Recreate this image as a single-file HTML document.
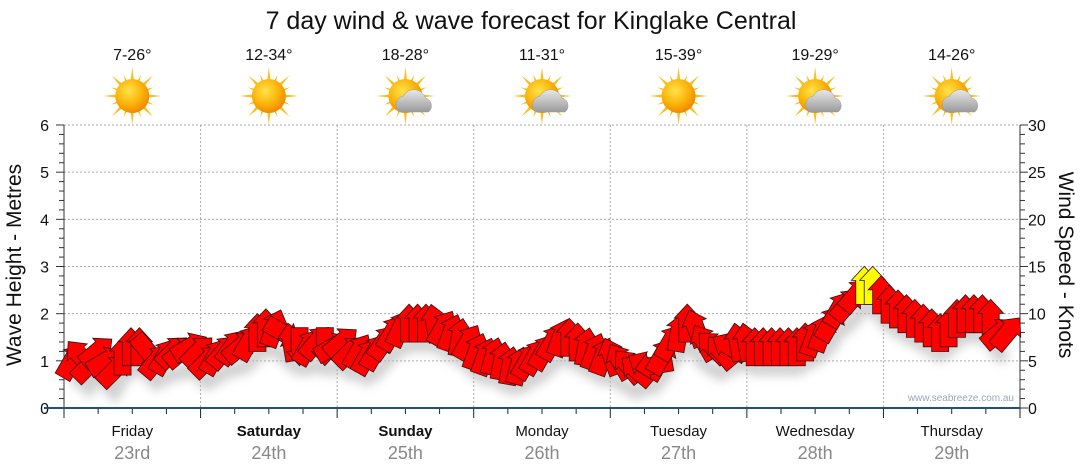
<!DOCTYPE html>
<html><head><meta charset="utf-8"><style>
body{margin:0;background:#fff;font-family:"Liberation Sans","DejaVu Sans",sans-serif}
svg{display:block}
</style></head><body>
<svg id="c" width="1080" height="475" viewBox="0 0 1080 475">
<defs>
<radialGradient id="sg" cx="40%" cy="35%" r="65%"><stop offset="0" stop-color="#ffe34a"/><stop offset="0.6" stop-color="#fbb40a"/><stop offset="1" stop-color="#f08a00"/></radialGradient>
<linearGradient id="cg" x1="0" y1="0" x2="0" y2="1"><stop offset="0" stop-color="#e8e8e8"/><stop offset="1" stop-color="#9a9a9a"/></linearGradient>
<filter id="sh" x="-20%" y="-20%" width="140%" height="160%"><feGaussianBlur stdDeviation="5"/></filter>
</defs>
<text x="531" y="29" text-anchor="middle" font-size="25" fill="#111">7 day wind &amp; wave forecast for Kinglake Central</text>
<g id="grid"></g><g id="axes"></g><g id="icons"></g><g id="arrows"></g>
<text x="1014" y="401" text-anchor="end" font-size="10" fill="#9aa6c0">www.seabreeze.com.au</text>
<text transform="translate(21,265) rotate(-90)" text-anchor="middle" font-size="21" fill="#111">Wave Height - Metres</text>
<text transform="translate(1059,265) rotate(90)" text-anchor="middle" font-size="21" fill="#111">Wind Speed - Knots</text>
</svg>
<script>
const days=["Friday","Saturday","Sunday","Monday","Tuesday","Wednesday","Thursday"];
const dates=["23rd","24th","25th","26th","27th","28th","29th"];
const boldDays=[false,true,true,false,false,false,false];
const temps=["7-26°","12-34°","18-28°","11-31°","15-39°","19-29°","14-26°"];
const cloudy=[false,false,true,true,false,true,true];
const waveTicks=[0,1,2,3,4,5,6];
const windTicks=[0,5,10,15,20,25,30];
const windSpeed=[5,5.5,4.5,6,5,4,5.5,6.5,6.5,6,5,5.5,6,6,6.5,6,
5,5.5,6,6.5,6.5,7,8,8.5,8.5,8,7,6.5,6.5,7,6.5,6.5,
7,6,6,5.5,6,7,8,8.5,9,9,9,9,8.5,8,7.5,7,
6,5.5,5.5,5,4.5,4.5,5,5.5,6,7,7.5,7.5,7,6.5,6,5.5,
5.5,5,4.5,4,4.5,4.5,5.5,7,8,9,8.5,7,6.5,6,6.5,7,
7,6.5,6.5,6.5,6.5,6.5,6.5,7,7.5,8,9,10.5,11,12,13,13,
12,11,10.5,10,9.5,9,8.5,8,8.5,9.5,10,10,10,9.5,8,8];
const windDir=[30,-40,45,50,60,45,0,0,0,140,40,30,45,50,60,45,
45,30,40,35,50,30,0,0,20,120,-10,180,30,40,180,60,
50,45,30,30,30,35,30,25,0,0,0,-10,30,20,10,30,
20,20,15,10,10,15,30,30,30,30,20,0,0,10,20,20,
-20,-30,-40,-50,-60,-100,30,30,10,0,-20,-30,-45,-40,-60,-10,
-10,0,0,0,0,0,0,0,20,20,30,30,40,40,0,0,
0,0,0,0,0,0,0,0,0,0,0,0,0,0,50,40];
const NS="http://www.w3.org/2000/svg";
const X0=64,X1=1020,Y0=408,Y1=125,DW=(X1-X0)/7;
const yW=m=>Y0-(m/6)*(Y0-Y1);
const yK=k=>Y0-(k/30)*(Y0-Y1);
const xT=i=>X0+8+i*(X1-X0-12)/windSpeed.length;
function mk(t,a,p){const e=document.createElementNS(NS,t);for(const k in a)e.setAttribute(k,a[k]);(p||document.getElementById('c')).appendChild(e);return e;}
const grid=document.getElementById('grid'),axes=document.getElementById('axes'),icons=document.getElementById('icons'),arr=document.getElementById('arrows');
waveTicks.forEach(v=>{if(v>0){const l=mk('line',{x1:X0,x2:X1,y1:yW(v),y2:yW(v),stroke:'#aaa','stroke-dasharray':'2,2'},grid);}
const t=mk('text',{x:49,y:yW(v)+6,'text-anchor':'end','font-size':16,fill:'#111'},axes);t.textContent=v;});
windTicks.forEach(v=>{const t=mk('text',{x:1028,y:yK(v)+6,'font-size':16,fill:'#111'},axes);t.textContent=v;});
for(let i=1;i<7;i++){const l=mk('line',{x1:X0+i*DW,x2:X0+i*DW,y1:Y1,y2:Y0,stroke:'#aaa','stroke-dasharray':'2,2'},grid);}
for(let m=0;m<=30;m++){const y=Y1+m*(Y0-Y1)/30,w=m%5==0?8:5;mk('line',{x1:X0-w,x2:X0,y1:y,y2:y,stroke:'#333'},axes);mk('line',{x1:X1,x2:X1+w,y1:y,y2:y,stroke:'#333'},axes);}
mk('line',{x1:X0,x2:X0,y1:Y1,y2:Y0,stroke:'#333'},axes);mk('line',{x1:X1,x2:X1,y1:Y1,y2:Y0,stroke:'#333'},axes);
for(let q=0;q<=28;q++){const x=X0+q*DW/4;mk('line',{x1:x,x2:x,y1:Y0,y2:Y0+(q%4==0?10:6),stroke:'#222'},axes);}
mk('line',{x1:X0-20,x2:X1,y1:Y0,y2:Y0,stroke:'#1f5080','stroke-width':2},axes);
days.forEach((d,i)=>{const cx=X0+(i+0.5)*DW;
const t=mk('text',{x:cx,y:436,'text-anchor':'middle','font-size':15,fill:'#111','font-weight':boldDays[i]?'bold':'normal'},axes);t.textContent=d;
const t2=mk('text',{x:cx,y:459,'text-anchor':'middle','font-size':18,fill:'#888'},axes);t2.textContent=dates[i];
const t3=mk('text',{x:cx,y:60,'text-anchor':'middle','font-size':16,fill:'#111'},icons);t3.textContent=temps[i];
const g=mk('g',{transform:`translate(${cx},96)`},icons);
for(let r=0;r<16;r++){const a=r*22.5,L=r%2?23:29;mk('polygon',{points:`-3.5,0 3.5,0 0,-${L}`,fill:'#f5c020',transform:`rotate(${a})`},g);}
mk('circle',{r:17,fill:'url(#sg)'},g);
if(cloudy[i]){mk('path',{d:'M-6,16 a9,9 0 0 1 4,-16 a12,12 0 0 1 22,2 a8,8 0 0 1 3,14 z',fill:'url(#cg)',stroke:'#999','stroke-width':0.5},g);}
});
let sp='';windSpeed.forEach((v,i)=>{sp+=(i?'L':'M')+xT(i)+','+(yK(v)+22);});
mk('path',{d:sp,stroke:'#bbb','stroke-width':14,fill:'none',filter:'url(#sh)',opacity:0.7},arr);
const shape='M0,-19 L13,-5 L8.5,-5 L8.5,19 L-8.5,19 L-8.5,-5 L-13,-5 Z';
windSpeed.forEach((v,i)=>{const p=mk('path',{d:shape,fill:v>=12.5?'#ffff00':'#ff0000',stroke:'#3a1010','stroke-width':0.8,transform:`translate(${xT(i)},${yK(v)}) rotate(${windDir[i]})`},arr);

});
</script>
</body></html>
